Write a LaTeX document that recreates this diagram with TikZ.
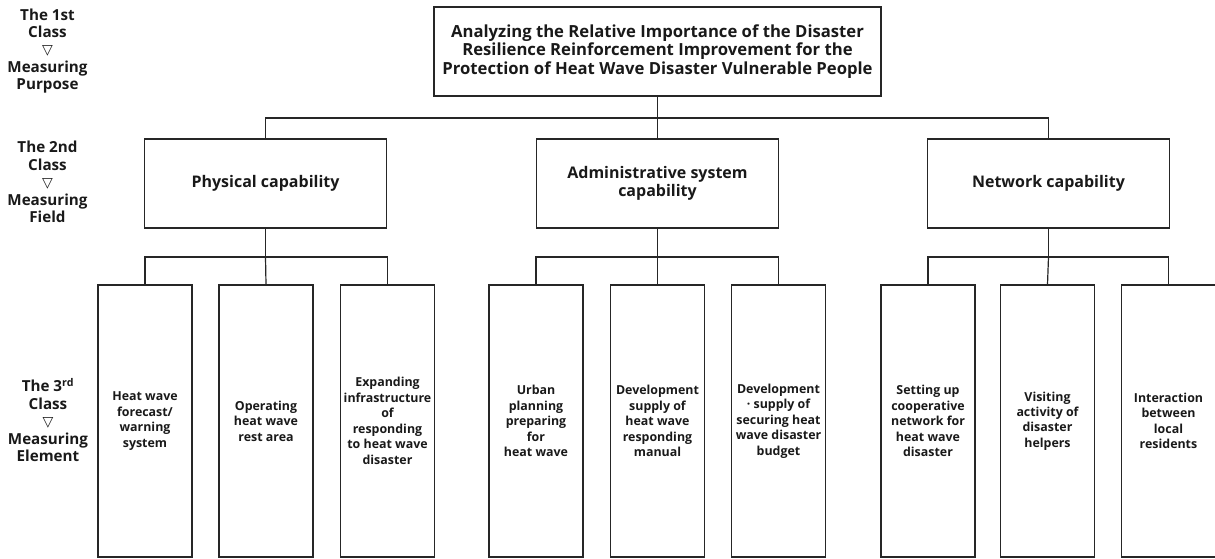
\documentclass[tikz,border=0pt]{standalone}
\usepackage{fontspec}
\setmainfont{Open Sans}
\newfontfamily\symfont{DejaVu Sans}
\newcommand{\tri}{{\symfont\mdseries\fontsize{10.5}{10}\selectfont ▽}}
\begin{document}
\begin{tikzpicture}[x=0.75pt,y=-0.75pt,
  box/.style={draw=black!85, line width=0.9pt, inner sep=0pt, align=center, text=black!90},
  topbox/.style={box, minimum width=335.25pt, minimum height=66.75pt, font=\bfseries\fontsize{12.5}{13.9}\selectfont},
  midbox/.style={box, minimum width=182pt, minimum height=66.75pt, font=\bfseries\fontsize{12}{13.5}\selectfont},
  leafbox/.style={box, minimum width=70.5pt, minimum height=204pt, font=\bfseries\fontsize{9.3}{11.6}\selectfont},
  lbl/.style={align=center, inner sep=0pt, text=black!90, font=\bfseries\fontsize{11.4}{13.1}\selectfont},
  link/.style={draw=black!85, line width=0.9pt}]
\useasboundingbox (0,0) rectangle (1215,558);
\begin{scope}
\clip (0,0) rectangle (1215,558);
% side labels
\node[lbl] (l1) at (47.5,51) {The 1st\\Class\\\tri\\Measuring\\Purpose};
\node[lbl] (l2) at (47.5,182) {The 2nd\\Class\\\tri\\Measuring\\Field};
\node[lbl] (l3) at (48,420) {The 3\textsuperscript{rd}\\Class\\\tri\\Measuring\\Element};
% top
\node[topbox] (top) at (657.5,51.5) {Analyzing the Relative Importance of the Disaster\\Resilience Reinforcement Improvement for the\\Protection of Heat Wave Disaster Vulnerable People};
% level 2
\node[midbox] (p2) at (265.5,183.5) {Physical capability};
\node[midbox] (a2) at (657.5,183.5) {Administrative system\\capability};
\node[midbox] (n2) at (1048.5,183.5) {Network capability};
% level 3
\node[leafbox] (p31) at (145,421) {Heat wave\\forecast/\\warning\\system};
\node[leafbox] (p32) at (266,421) {Operating\\heat wave\\rest area};
\node[leafbox] (p33) at (387.5,421) {Expanding\\infrastructure\\of\\responding\\to heat wave\\disaster};
\node[leafbox] (a31) at (536,421) {Urban\\planning\\preparing\\for\\heat wave};
\node[leafbox] (a32) at (657.5,421) {Development\\supply of\\heat wave\\responding\\manual};
\node[leafbox] (a33) at (778.5,421) {Development\\· supply of\\securing heat\\wave disaster\\budget};
\node[leafbox] (n31) at (928,421) {Setting up\\cooperative\\network for\\heat wave\\disaster};
\node[leafbox] (n32) at (1047.5,421) {Visiting\\activity of\\disaster\\helpers};
\node[leafbox] (n33) at (1168.5,421) {Interaction\\between\\local\\residents};
% bus coordinates
\coordinate (b1) at (657.5,118);
\coordinate (bp) at (265.5,257);
\coordinate (ba) at (657.5,257);
\coordinate (bn) at (1048.5,257);
% connectors
\draw[link] (top.south) -- (a2.north);
\draw[link] (p2.north) |- (b1) -| (n2.north);
\draw[link] (p2.south) -- (bp);
\draw[link] (p31.north) |- (bp) -| (p33.north);
\draw[link] (bp) -- (p32.north);
\draw[link] (a2.south) -- (ba);
\draw[link] (a31.north) |- (ba) -| (a33.north);
\draw[link] (ba) -- (a32.north);
\draw[link] (n2.south) -- (bn);
\draw[link] (n31.north) |- (bn) -| (n33.north);
\draw[link] (bn) -- (n32.north);
\end{scope}
\end{tikzpicture}
\end{document}
